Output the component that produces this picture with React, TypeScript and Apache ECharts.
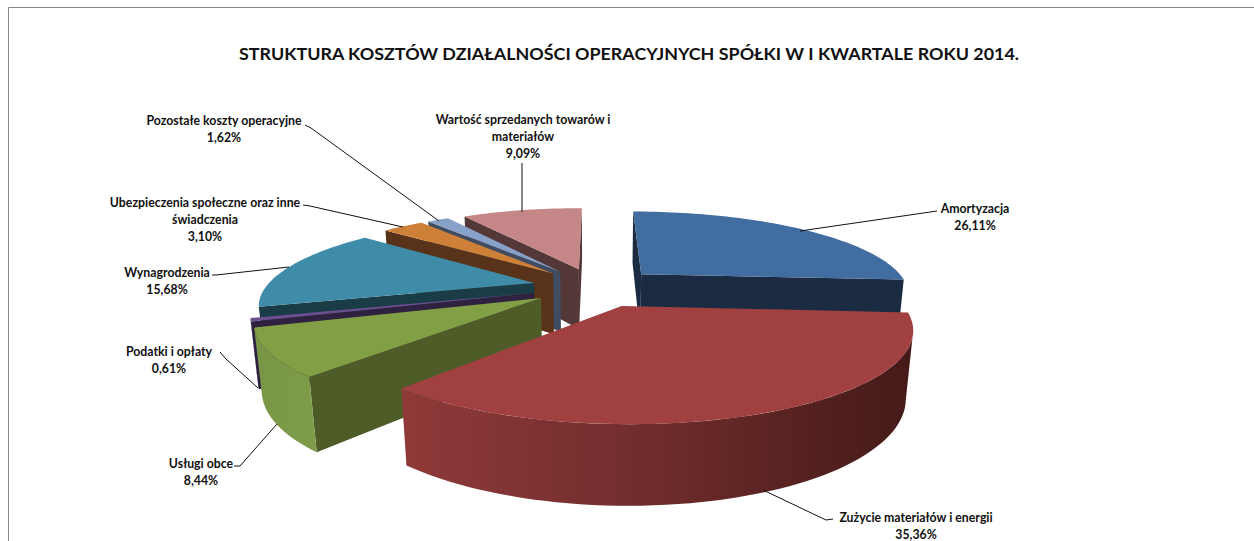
import React, { useEffect, useRef } from "react";
import * as echarts from "echarts";

const categories = [
  "Amortyzacja",
  "Zużycie materiałów i energii",
  "Usługi obce",
  "Podatki i opłaty",
  "Wynagrodzenia",
  "Ubezpieczenia społeczne oraz inne świadczenia",
  "Pozostałe koszty operacyjne",
  "Wartość sprzedanych towarów i materiałów",
];
const values = [26.11, 35.36, 8.44, 0.61, 15.68, 3.1, 1.62, 9.09];
const valueLabels = ["26,11%", "35,36%", "8,44%", "0,61%", "15,68%", "3,10%", "1,62%", "9,09%"];
const titleText = "STRUKTURA KOSZTÓW DZIAŁALNOŚCI OPERACYJNYCH SPÓŁKI W I KWARTALE ROKU 2014.";

// drawing order, back to front
const drawOrder = [0, 7, 6, 5, 4, 3, 2, 1];
const topColors = ["#426da0", "#a04040", "#839f46", "#6b4e8e", "#3e8ca7", "#cf8038", "#88a1c8", "#c48686"];
const cutColors = ["#1b2c42", "#431a18", "#4e5c28", "#2f2240", "#1a3c47", "#59321a", "#3f4c62", "#543838"];
const wallStops = [
  ["#1b2c42", "#1b2c42"],
  ["#8f3a39", "#6e2c2b", "#441a18"],
  ["#799646", "#7f9c4a"],
  ["#2f2240", "#2f2240"],
  ["#1a3c47", "#1a3c47"],
  ["#59321a", "#59321a"],
  ["#3f4c62", "#3f4c62"],
  ["#543838", "#543838"],
];
const labelLines = [
  ["Amortyzacja"],
  ["Zużycie materiałów i energii"],
  ["Usługi obce"],
  ["Podatki i opłaty"],
  ["Wynagrodzenia"],
  ["Ubezpieczenia społeczne oraz inne", "świadczenia"],
  ["Pozostałe koszty operacyjne"],
  ["Wartość sprzedanych towarów i", "materiałów"],
];
const labelCenters = [
  [975, 200],
  [916, 509],
  [201, 455],
  [169, 343],
  [167, 264],
  [205, 194],
  [224, 112],
  [523, 111],
];
const leaders = [
  [[800, 231], [937, 211]],
  [[763, 490], [826, 520], [833, 519]],
  [[277, 424], [240, 466], [234, 466]],
  [[258, 388], [226, 359], [220, 352]],
  [[289, 267], [216, 275], [212, 275]],
  [[403, 227], [310, 206], [303, 205]],
  [[439, 221], [311, 128], [305, 125]],
  [[522, 212], [522, 163]],
];

const CX = 596;
const CY = 287;
const R = 268;
const EXPLODE = 64;
const DIST = 1200;
const TILT = 0.305;
const H = 64;
const SINK = 0.4;

const total = values.reduce((a, b) => a + b, 0);
const startAngles: number[] = [];
values.reduce((acc, v, i) => {
  startAngles[i] = (acc / total) * 360;
  return acc + v;
}, 0);

function project(X: number, Y: number, Z: number) {
  const w = DIST / (DIST - Y - Z * SINK);
  return [CX + X * w, CY + (TILT * Y - Z) * w];
}
const rad = (d: number) => (d * Math.PI) / 180;

function orient(p: number[][]) {
  let a = 0;
  for (let i = 0; i < p.length; i++) {
    const q = p[(i + 1) % p.length];
    a += p[i][0] * q[1] - q[0] * p[i][1];
  }
  return a;
}

function renderSlice(params: any, api: any) {
  const i = api.value(0) as number;
  const value = api.value(1) as number;
  const a0 = startAngles[i];
  const a1 = a0 + (value / total) * 360;
  const mid = rad((a0 + a1) / 2);
  const ox = EXPLODE * Math.sin(mid);
  const oy = -EXPLODE * Math.cos(mid);
  const rim = (deg: number, z: number) =>
    project(ox + R * Math.sin(rad(deg)), oy - R * Math.cos(rad(deg)), z);
  const apex = (z: number) => project(ox, oy, z);
  const children: any[] = [];
  const poly = (points: number[][], fill: any) => ({
    type: "polygon",
    shape: { points },
    style: { fill, stroke: "none" },
  });

  const startPlane = [apex(0), rim(a0, 0), rim(a0, -H), apex(-H)];
  const endPlane = [apex(0), rim(a1, 0), rim(a1, -H), apex(-H)];
  if (orient(startPlane) < 0) children.push(poly(startPlane, cutColors[i]));
  if (orient(endPlane) > 0) children.push(poly(endPlane, cutColors[i]));

  let wa = Math.max(a0, 90);
  let wb = Math.min(a1, 270);
  if (wb > wa) {
    // keep only the part of the rim between its outermost points on screen
    let left = wa;
    let right = wa;
    for (let d = wa; d <= wb; d += 0.5) {
      const x = rim(d, 0)[0];
      if (x > rim(right, 0)[0]) right = d;
      if (x < rim(left, 0)[0]) left = d;
    }
    if (x2(rim, wb) < rim(left, 0)[0]) left = wb;
    wa = right;
    wb = left;
  }
  if (wb > wa) {
    const top: number[][] = [];
    const bottom: number[][] = [];
    const n = Math.max(2, Math.ceil((wb - wa) / 2));
    for (let k = 0; k <= n; k++) {
      const d = wa + ((wb - wa) * k) / n;
      top.push(rim(d, 0));
      bottom.push(rim(d, -H));
    }
    const pts = top.concat(bottom.reverse());
    const xs = pts.map((p) => p[0]);
    const stops = wallStops[i];
    const grad = new echarts.graphic.LinearGradient(
      Math.max(...xs),
      0,
      Math.min(...xs),
      0,
      stops
        .slice()
        .reverse()
        .map((color, k) => ({ offset: k / (stops.length - 1), color })),
      true
    );
    children.push(poly(pts, grad));
  }

  const face: number[][] = [apex(0)];
  const m = Math.max(2, Math.ceil((a1 - a0) / 1.5));
  for (let k = 0; k <= m; k++) face.push(rim(a0 + ((a1 - a0) * k) / m, 0));
  children.push(poly(face, topColors[i]));

  return { type: "group", children };
}

function x2(rim: (d: number, z: number) => number[], d: number) {
  return rim(d, 0)[0];
}

const FONT = "Lato";

export default function App() {
  const ref = useRef<HTMLDivElement>(null);
  useEffect(() => {
    if (!ref.current) return;
    const chart = echarts.init(ref.current, undefined, { renderer: "svg" });
    const graphics: any[] = [
      { type: "line", shape: { x1: 8.5, y1: 7.5, x2: 1254, y2: 7.5 }, style: { stroke: "#868686", lineWidth: 1 } },
      { type: "line", shape: { x1: 8.5, y1: 7.5, x2: 8.5, y2: 541 }, style: { stroke: "#868686", lineWidth: 1 } },
    ];
    leaders.forEach((points) => {
      graphics.push({
        type: "polyline",
        z: 10,
        shape: { points },
        style: { stroke: "#111", lineWidth: 1, fill: "none" },
      });
    });
    categories.forEach((_, i) => {
      graphics.push({
        type: "text",
        z: 11,
        x: labelCenters[i][0],
        y: labelCenters[i][1],
        style: {
          text: [...labelLines[i], valueLabels[i]].join("\n"),
          textAlign: "center",
          textVerticalAlign: "top",
          font: `bold 12.3px ${FONT}`,
          lineHeight: 17,
          fill: "#111",
        },
      });
    });
    chart.setOption({
      animation: false,
      backgroundColor: "#ffffff",
      title: {
        text: titleText,
        left: 624,
        top: 39,
        textAlign: "center",
        textStyle: { fontFamily: FONT, fontWeight: "bold", fontSize: 17.9, color: "#111" },
      },
      graphic: graphics,
      series: [
        {
          type: "custom",
          coordinateSystem: "none",
          renderItem: renderSlice,
          data: drawOrder.map((i) => [i, values[i]]),
          silent: true,
        },
      ],
    });
    return () => chart.dispose();
  }, []);
  return <div ref={ref} style={{ position: "fixed", left: 0, top: 0, width: 1254, height: 541 }} />;
}
